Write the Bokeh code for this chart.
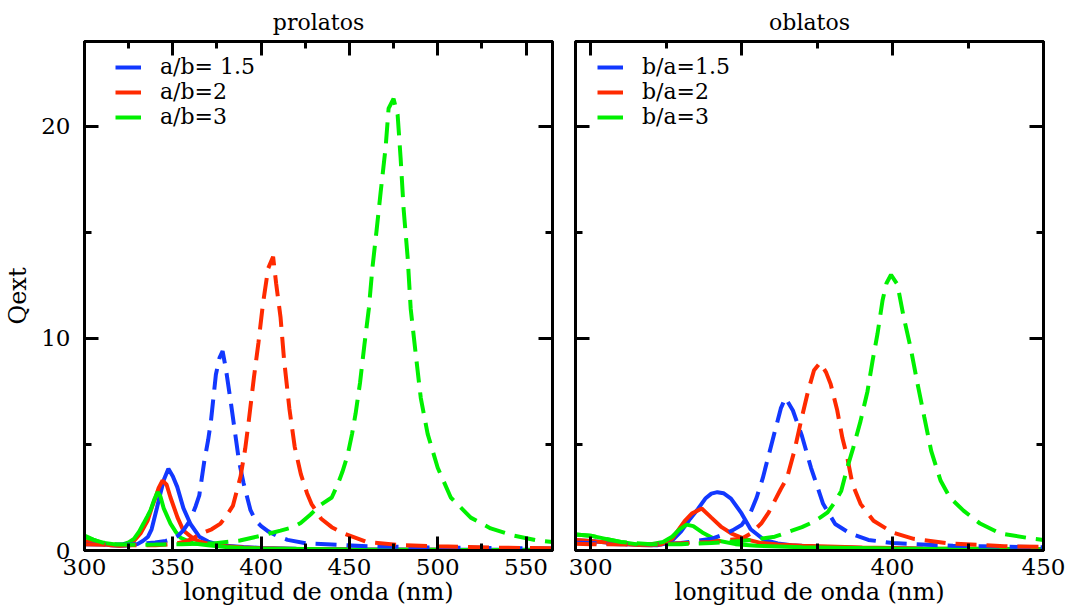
from bokeh.plotting import figure
from bokeh.models import (Legend, LegendItem, LinearAxis, SingleIntervalTicker,
                          Range1d, CustomJSTickFormatter)
from bokeh.layouts import row
from bokeh.embed import file_html
from bokeh.resources import INLINE

# ---------------- data : prolatos (left panel) ----------------
pro_b15_solid_x = [300, 305, 310, 315, 320, 325, 330, 333, 336, 338, 341, 343, 345, 347.5, 350, 352.5, 356, 360, 365, 370, 375, 380, 390, 400, 420, 450, 500, 565]
pro_b15_solid_y = [0.42, 0.36, 0.30, 0.25, 0.22, 0.24, 0.30, 0.45, 0.65, 1.0, 2.0, 2.7, 3.35, 3.85, 3.5, 3.0, 2.0, 1.25, 0.65, 0.42, 0.30, 0.22, 0.16, 0.12, 0.08, 0.06, 0.04, 0.03]

pro_b2_solid_x = [300, 305, 310, 315, 320, 324, 328, 331.7, 335.7, 338, 340.2, 342, 344.2, 346.5, 348.7, 352.7, 356, 361.8, 366, 370, 380, 390, 400, 420, 450, 500, 565]
pro_b2_solid_y = [0.45, 0.38, 0.30, 0.25, 0.22, 0.26, 0.45, 0.8, 1.4, 2.0, 2.5, 2.95, 3.3, 3.1, 2.5, 1.55, 0.94, 0.55, 0.40, 0.32, 0.20, 0.14, 0.11, 0.07, 0.05, 0.03, 0.02]

pro_b3_solid_x = [300, 305, 309, 316.5, 322, 325, 328, 331, 333.4, 335.5, 337.4, 339.5, 341.4, 343, 344.8, 348.7, 351.5, 354.4, 361.8, 370, 380, 390, 400, 450, 500, 565]
pro_b3_solid_y = [0.70, 0.52, 0.38, 0.30, 0.30, 0.38, 0.55, 0.9, 1.27, 1.6, 1.9, 2.4, 2.75, 2.55, 2.0, 1.27, 0.9, 0.6, 0.33, 0.25, 0.17, 0.12, 0.10, 0.05, 0.03, 0.02]

pro_b15_dash_x = [300, 310, 320, 330, 340, 346, 350, 353, 356, 360, 363, 365, 367.8, 370, 371.6, 374.4, 376.5, 378.2, 380, 383, 387.5, 390, 394, 397, 400, 404, 410, 415, 426, 440, 460, 500, 565]
pro_b15_dash_y = [0.30, 0.28, 0.27, 0.30, 0.38, 0.45, 0.55, 0.70, 0.95, 1.45, 2.1, 2.6, 4.2, 5.2, 6.1, 8.3, 9.1, 9.4, 8.6, 6.9, 4.2, 3.2, 1.9, 1.4, 1.15, 0.9, 0.65, 0.5, 0.33, 0.28, 0.20, 0.14, 0.10]

pro_b2_dash_x = [300, 320, 340, 350, 356, 361, 366, 372, 377, 380, 384, 388.4, 391, 393, 396, 398.5, 401, 404, 406.8, 408.5, 411, 413, 416, 419, 422.5, 426, 428.5, 434, 440, 447, 460, 480, 500, 530, 565]
pro_b2_dash_y = [0.30, 0.25, 0.25, 0.30, 0.40, 0.55, 0.80, 1.0, 1.27, 1.6, 2.1, 3.5, 4.8, 6.1, 8.2, 9.8, 11.6, 13.3, 13.85, 12.6, 11.0, 9.0, 6.7, 4.9, 3.6, 2.7, 2.2, 1.5, 1.1, 0.8, 0.4, 0.25, 0.2, 0.14, 0.10]

pro_b3_dash_x = [300, 305, 310, 318, 330, 340, 355, 373, 388, 400, 411, 418, 422.4, 428, 433.7, 440, 443.3, 446, 449, 451.5, 453.5, 456, 458.5, 461, 463, 465.4, 467.7, 470.5, 472.2, 475, 477.3, 479, 480.7, 483, 484.7, 487.5, 490.4, 494.3, 500, 507.4, 518.7, 530, 543, 556.6, 565]
pro_b3_dash_y = [0.65, 0.50, 0.38, 0.28, 0.27, 0.28, 0.30, 0.33, 0.47, 0.70, 0.94, 1.1, 1.3, 1.7, 2.15, 2.5, 3.1, 3.7, 4.5, 5.5, 6.45, 7.9, 9.7, 11.4, 13.3, 15.1, 16.9, 19.0, 20.85, 21.3, 20.55, 18.5, 16.1, 13.8, 11.4, 9.3, 7.2, 5.5, 3.9, 2.5, 1.55, 1.04, 0.70, 0.47, 0.40]

# ---------------- data : oblatos (right panel) ----------------
obl_b15_solid_x = [295, 300, 310, 316, 322, 325, 327, 330, 333, 335.5, 338, 340, 342, 344, 346.5, 350, 353, 357.5, 362, 366.5, 375, 390, 410, 450]
obl_b15_solid_y = [0.48, 0.45, 0.32, 0.26, 0.25, 0.33, 0.47, 0.9, 1.5, 1.95, 2.45, 2.68, 2.75, 2.7, 2.45, 1.75, 1.0, 0.5, 0.33, 0.25, 0.18, 0.12, 0.08, 0.05]

obl_b2_solid_x = [295, 300, 310, 316, 320, 323.5, 327, 328.9, 331.2, 333.5, 336.8, 340, 343.4, 346.7, 351, 356.6, 362, 370, 390, 410, 450]
obl_b2_solid_y = [0.5, 0.45, 0.32, 0.26, 0.25, 0.30, 0.55, 0.94, 1.4, 1.74, 1.98, 1.55, 1.1, 0.8, 0.55, 0.35, 0.28, 0.22, 0.14, 0.10, 0.06]

obl_b3_solid_x = [295, 300, 305, 310, 315, 320, 324, 327, 329.5, 331.8, 334, 337, 342, 348, 355, 370, 400, 450]
obl_b3_solid_y = [0.75, 0.70, 0.55, 0.40, 0.30, 0.30, 0.40, 0.65, 1.0, 1.22, 1.15, 0.85, 0.47, 0.30, 0.22, 0.15, 0.10, 0.06]

obl_b15_dash_x = [295, 300, 310, 320, 330, 340, 344, 347, 350, 353, 355, 357, 359, 361, 363, 364.5, 367, 370, 373, 377, 381, 386, 392, 400, 420, 450]
obl_b15_dash_y = [0.36, 0.35, 0.30, 0.28, 0.35, 0.55, 0.75, 0.95, 1.2, 1.8, 2.5, 3.4, 4.5, 5.6, 6.7, 7.2, 6.6, 5.4, 3.9, 2.2, 1.25, 0.8, 0.5, 0.35, 0.22, 0.15]

obl_b2_dash_x = [295, 300, 320, 340, 345, 350, 353, 356.5, 359, 361, 363, 365, 367.5, 370, 372, 374, 376, 378, 379.5, 381.7, 383.4, 385, 386.7, 389.4, 393.7, 400, 407, 419, 437, 450]
obl_b2_dash_y = [0.32, 0.30, 0.28, 0.40, 0.50, 0.55, 0.80, 1.27, 1.8, 2.35, 2.9, 3.4, 4.7, 6.3, 7.5, 8.5, 8.85, 8.4, 7.85, 6.6, 5.3, 4.4, 3.15, 2.2, 1.4, 0.85, 0.55, 0.33, 0.20, 0.17]

obl_b3_dash_x = [295, 300, 305, 310, 320, 330, 340, 350, 356, 361, 366, 370, 373, 376, 378.5, 381, 383, 385, 387, 389.4, 391.7, 393.4, 395, 396.7, 398, 399.5, 401.6, 403.7, 406, 408.3, 410.5, 412.8, 415.9, 419, 423.5, 429, 435.8, 446.7, 450]
obl_b3_dash_y = [0.75, 0.70, 0.55, 0.40, 0.30, 0.30, 0.35, 0.45, 0.55, 0.65, 0.9, 1.1, 1.3, 1.55, 1.8, 2.3, 2.8, 3.9, 4.85, 6.1, 7.5, 8.95, 10.2, 11.8, 12.6, 13.0, 12.55, 11.0, 9.55, 7.85, 6.3, 4.7, 3.3, 2.5, 1.88, 1.27, 0.8, 0.55, 0.50]

pro_labels = ["a/b= 1.5", "a/b=2", "a/b=3"]
obl_labels = ["b/a=1.5", "b/a=2", "b/a=3"]
panel_titles = ["prolatos", "oblatos"]
x_label = "longitud de onda (nm)"
y_label = "Qext"

FONT = "DejaVu Serif"
BLUE = "#1238ff"
RED = "#ff2a00"
GREEN = "#00f000"
LW = 4
DASH = "21 10"


def blank_formatter():
    return CustomJSTickFormatter(code="return '';")


def style_axis(ax, show_labels):
    ax.axis_line_width = 3
    ax.axis_line_color = "black"
    ax.major_tick_out = 0
    ax.minor_tick_out = 0
    ax.major_tick_in = 14
    ax.minor_tick_in = 7
    ax.major_tick_line_width = 3
    ax.minor_tick_line_width = 3
    ax.major_tick_line_color = "black"
    ax.minor_tick_line_color = "black"
    if show_labels:
        ax.major_label_text_font = FONT
        ax.major_label_text_font_size = "23px"
        ax.major_label_text_color = "black"
        ax.axis_label_text_font = FONT
        ax.axis_label_text_font_size = "24px"
        ax.axis_label_text_font_style = "normal"
        ax.axis_label_text_color = "black"
    else:
        ax.formatter = blank_formatter()
        ax.major_label_text_font_size = "1px"
        ax.major_label_standoff = 0


def make_panel(width, bl, br, xr, title, y_labels):
    p = figure(width=width, height=611, x_range=Range1d(*xr), y_range=Range1d(0, 24),
               output_backend="svg", toolbar_location=None,
               min_border_left=bl, min_border_right=br, min_border_top=41, min_border_bottom=61,
               title=title)
    p.grid.visible = False
    p.outline_line_color = "black"
    p.outline_line_width = 3
    p.outline_line_alpha = 1
    p.background_fill_color = "white"
    p.border_fill_color = "white"
    p.title.align = "center"
    p.title.text_font = FONT
    p.title.text_font_size = "22px"
    p.title.text_font_style = "normal"
    p.title.text_color = "black"
    p.title.standoff = 13

    p.xaxis.ticker = SingleIntervalTicker(interval=50, num_minor_ticks=2)
    p.yaxis.ticker = SingleIntervalTicker(interval=10, num_minor_ticks=2)
    style_axis(p.xaxis[0], True)
    p.xaxis[0].axis_label = x_label
    p.xaxis[0].major_label_standoff = 8
    p.xaxis[0].axis_label_standoff = 0
    if y_labels:
        style_axis(p.yaxis[0], True)
        p.yaxis[0].axis_label = y_label
        p.yaxis[0].major_label_standoff = 14
        p.yaxis[0].axis_label_standoff = 6
    else:
        style_axis(p.yaxis[0], False)

    top = LinearAxis(ticker=SingleIntervalTicker(interval=50, num_minor_ticks=2))
    style_axis(top, False)
    p.add_layout(top, "above")
    right = LinearAxis(ticker=SingleIntervalTicker(interval=10, num_minor_ticks=2))
    style_axis(right, False)
    p.add_layout(right, "right")
    return p


def add_series(p, sets, labels, loc):
    solid = []
    for (x, y), c in zip(sets[:3], [BLUE, RED, GREEN]):
        solid.append(p.line(x, y, line_color=c, line_width=LW))
    for (x, y), c in zip(sets[3:], [BLUE, RED, GREEN]):
        p.line(x, y, line_color=c, line_width=LW, line_dash=DASH)
    leg = Legend(items=[LegendItem(label=l, renderers=[r]) for l, r in zip(labels, solid)],
                 location=loc)
    leg.border_line_color = None
    leg.background_fill_alpha = 0
    leg.padding = 0
    leg.margin = 0
    leg.spacing = 0
    leg.glyph_width = 26
    leg.glyph_height = 22
    leg.label_height = 22
    leg.label_standoff = 19
    leg.label_text_font = FONT
    leg.label_text_font_size = "22px"
    leg.label_text_color = "black"
    p.add_layout(leg, "center")


p1 = make_panel(563, 84, 11, (300, 565), panel_titles[0], True)
add_series(p1, [(pro_b15_solid_x, pro_b15_solid_y), (pro_b2_solid_x, pro_b2_solid_y),
                (pro_b3_solid_x, pro_b3_solid_y), (pro_b15_dash_x, pro_b15_dash_y),
                (pro_b2_dash_x, pro_b2_dash_y), (pro_b3_dash_x, pro_b3_dash_y)],
           pro_labels, (31, 421))

p2 = make_panel(506, 12, 26, (295, 450), panel_titles[1], False)
add_series(p2, [(obl_b15_solid_x, obl_b15_solid_y), (obl_b2_solid_x, obl_b2_solid_y),
                (obl_b3_solid_x, obl_b3_solid_y), (obl_b15_dash_x, obl_b15_dash_y),
                (obl_b2_dash_x, obl_b2_dash_y), (obl_b3_dash_x, obl_b3_dash_y)],
           obl_labels, (22, 421))

layout = row(p1, p2, spacing=0)
open("out.html", "w").write(file_html(layout, INLINE))
